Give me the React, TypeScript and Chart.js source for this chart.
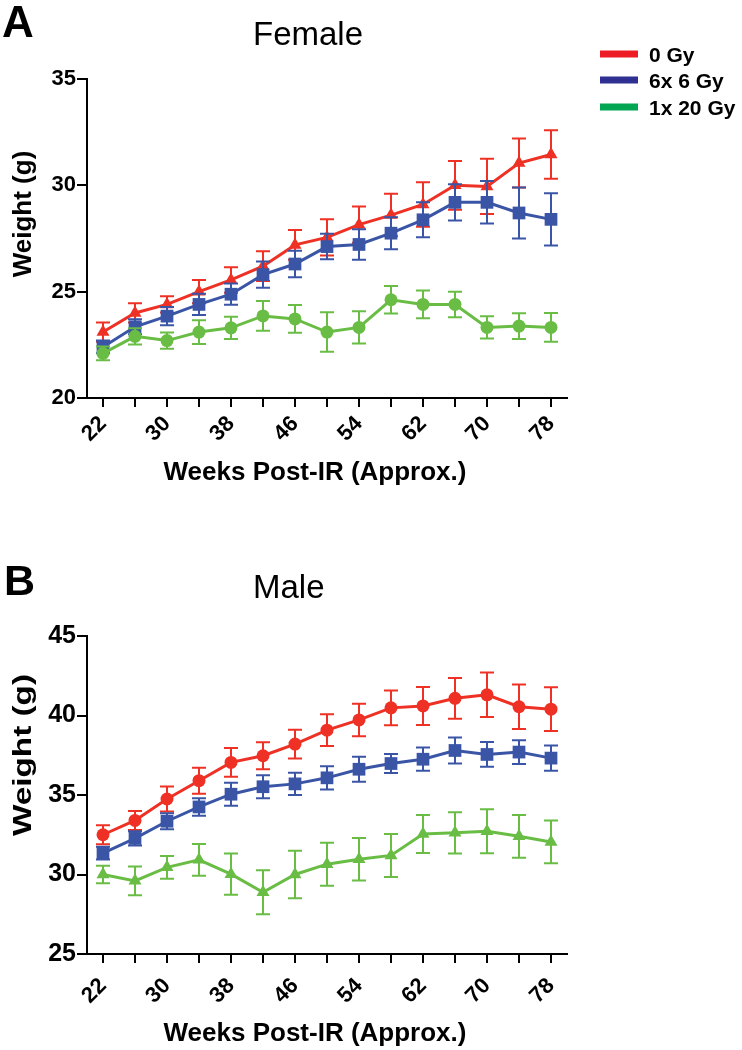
import React, { useEffect, useRef } from "react";
import { Chart, registerables } from "chart.js";

Chart.register(...registerables);

const FONT = "'Liberation Sans', Arial, Helvetica, sans-serif";

// ---- Data ----
const weeks = ["22", "26", "30", "34", "38", "42", "46", "50", "54", "58", "62", "66", "70", "74", "78"];
const seriesNames = ["0 Gy", "6x 6 Gy", "1x 20 Gy"];

// Female (panel A)
const female0Gy = [23.1, 24.0, 24.4, 25.0, 25.55, 26.2, 27.2, 27.55, 28.15, 28.6, 29.1, 30.0, 29.95, 31.05, 31.45];
const female0GySem = [0.45, 0.45, 0.38, 0.55, 0.6, 0.7, 0.7, 0.85, 0.85, 1.0, 1.05, 1.15, 1.3, 1.15, 1.14];
const female6x6Gy = [22.4, 23.35, 23.85, 24.4, 24.88, 25.8, 26.3, 27.12, 27.22, 27.75, 28.38, 29.2, 29.2, 28.7, 28.4];
const female6x6GySem = [0.3, 0.35, 0.43, 0.5, 0.5, 0.62, 0.62, 0.6, 0.72, 0.75, 0.82, 0.85, 1.0, 1.2, 1.23];
const female1x20Gy = [22.1, 22.9, 22.7, 23.1, 23.3, 23.86, 23.72, 23.1, 23.32, 24.62, 24.4, 24.4, 23.32, 23.38, 23.32];
const female1x20GySem = [0.32, 0.38, 0.38, 0.56, 0.52, 0.7, 0.65, 0.93, 0.76, 0.65, 0.65, 0.6, 0.52, 0.6, 0.68];

// Male (panel B)
const male0Gy = [32.5, 33.4, 34.75, 35.9, 37.05, 37.47, 38.2, 39.08, 39.72, 40.48, 40.6, 41.08, 41.3, 40.55, 40.4];
const male0GySem = [0.6, 0.6, 0.78, 0.82, 0.9, 0.85, 0.9, 1.0, 1.02, 1.1, 1.2, 1.28, 1.4, 1.4, 1.38];
const male6x6Gy = [31.35, 32.27, 33.35, 34.25, 35.05, 35.52, 35.7, 36.08, 36.62, 36.98, 37.25, 37.8, 37.55, 37.7, 37.32];
const male6x6GySem = [0.4, 0.45, 0.5, 0.55, 0.72, 0.72, 0.7, 0.73, 0.78, 0.6, 0.73, 0.82, 0.78, 0.75, 0.8];
const male1x20Gy = [30.0, 29.6, 30.45, 30.92, 30.02, 28.88, 30.0, 30.65, 30.96, 31.2, 32.55, 32.62, 32.72, 32.4, 32.05];
const male1x20GySem = [0.55, 0.9, 0.72, 1.0, 1.3, 1.38, 1.5, 1.35, 1.33, 1.35, 1.2, 1.3, 1.38, 1.35, 1.35];

const femaleYTicks = [20, 25, 30, 35];
const maleYTicks = [25, 30, 35, 40, 45];

// ---- Styles ----
const RED = "#EE3124";
const BLUE = "#3A55A6";
const GREEN = "#69BD45";
const LEGEND_COLORS = ["#ED1C24", "#2E3192", "#00A651"];

type TextItem = {
  text: string;
  x: number;
  y: number;
  font: string;
  align?: CanvasTextAlign;
  rotate?: number;
  stretch?: number;
};

function annotationPlugin(items: TextItem[], legend: boolean) {
  return {
    id: "annotations",
    afterDraw(chart: any) {
      const ctx: CanvasRenderingContext2D = chart.ctx;
      ctx.save();
      ctx.fillStyle = "#000";
      ctx.textBaseline = "alphabetic";
      for (const it of items) {
        ctx.save();
        ctx.font = it.font;
        ctx.textAlign = it.align || "left";
        ctx.translate(it.x, it.y);
        if (it.rotate) ctx.rotate(it.rotate);
        if (it.stretch) ctx.scale(it.stretch, 1);
        ctx.fillText(it.text, 0, 0);
        ctx.restore();
      }
      if (legend) {
        const rows = [54, 80, 107];
        seriesNames.forEach((name, i) => {
          ctx.fillStyle = LEGEND_COLORS[i];
          ctx.fillRect(600, rows[i] - 3.5, 38, 7);
          ctx.fillStyle = "#000";
          ctx.font = `bold 21px ${FONT}`;
          ctx.textAlign = "left";
          ctx.fillText(name, 649, rows[i] + 7.5);
        });
      }
      ctx.restore();
    },
  };
}

function errorBarPlugin(errs: number[][]) {
  return {
    id: "errorBars",
    beforeDatasetDraw(chart: any, args: any) {
      const i = args.index;
      const meta = args.meta;
      const ds = chart.data.datasets[i];
      const ys = chart.scales.y;
      const e = errs[i];
      const ctx: CanvasRenderingContext2D = chart.ctx;
      ctx.save();
      ctx.strokeStyle = ds.borderColor;
      ctx.lineWidth = 2;
      meta.data.forEach((pt: any, j: number) => {
        const v = ds.data[j];
        const top = ys.getPixelForValue(v + e[j]);
        const bot = ys.getPixelForValue(v - e[j]);
        const x = pt.x;
        ctx.beginPath();
        ctx.moveTo(x, top);
        ctx.lineTo(x, bot);
        ctx.moveTo(x - 7, top);
        ctx.lineTo(x + 7, top);
        ctx.moveTo(x - 7, bot);
        ctx.lineTo(x + 7, bot);
        ctx.stroke();
      });
      ctx.restore();
    },
  };
}

type PanelCfg = {
  series: number[][];
  sems: number[][];
  styles: string[];
  radii: number[];
  yMin: number;
  yMax: number;
  yTicks: number[];
  padTop: number;
  xHeight: number;
  yTickSize: number;
  xTickPad: number;
  texts: TextItem[];
  legend: boolean;
};

function buildChart(canvas: HTMLCanvasElement, cfg: PanelCfg) {
  const colors = [RED, BLUE, GREEN];
  return new Chart(canvas, {
    type: "line",
    data: {
      labels: weeks,
      datasets: cfg.series.map((d, i) => ({
        label: seriesNames[i],
        data: d,
        borderColor: colors[i],
        backgroundColor: colors[i],
        borderWidth: 3,
        pointStyle: cfg.styles[i] as any,
        pointRadius: cfg.radii[i],
        pointBorderWidth: 0,
        pointBackgroundColor: colors[i],
        pointBorderColor: colors[i],
        tension: 0,
        order: 3 - i,
      })),
    },
    options: {
      responsive: false,
      animation: false,
      devicePixelRatio: 1,
      events: [],
      layout: { padding: { top: cfg.padTop, right: 175, left: 0, bottom: 0 } },
      plugins: {
        legend: { display: false },
        title: { display: false },
        tooltip: { enabled: false },
      },
      scales: {
        x: {
          type: "category",
          offset: true,
          afterFit: (s: any) => {
            s.height = cfg.xHeight;
          },
          border: { color: "#000", width: 2 },
          grid: {
            drawOnChartArea: false,
            drawTicks: true,
            tickLength: 9,
            color: "#000",
            lineWidth: 2,
          },
          ticks: {
            autoSkip: false,
            minRotation: 45,
            maxRotation: 45,
            padding: cfg.xTickPad,
            color: "#000",
            font: { family: FONT, size: 22, weight: "bold" },
            callback: (_v: any, idx: number) => (idx % 2 === 0 ? weeks[idx] : ""),
          },
        },
        y: {
          type: "linear",
          min: cfg.yMin,
          max: cfg.yMax,
          afterFit: (s: any) => {
            s.width = 87;
          },
          afterBuildTicks: (s: any) => {
            s.ticks = cfg.yTicks.map((v) => ({ value: v }));
          },
          border: { color: "#000", width: 2 },
          grid: {
            drawOnChartArea: false,
            drawTicks: true,
            tickLength: 10,
            color: "#000",
            lineWidth: 2,
          },
          ticks: {
            padding: 1,
            color: "#000",
            font: { family: FONT, size: cfg.yTickSize, weight: "bold" },
          },
        },
      },
    },
    plugins: [errorBarPlugin(cfg.sems), annotationPlugin(cfg.texts, cfg.legend)],
  } as any);
}

const panelA: PanelCfg = {
  series: [female0Gy, female6x6Gy, female1x20Gy],
  sems: [female0GySem, female6x6GySem, female1x20GySem],
  styles: ["triangle", "rect", "circle"],
  radii: [7.5, 9, 6.5],
  yMin: 20,
  yMax: 35,
  yTicks: femaleYTicks,
  padTop: 79,
  xHeight: 127,
  yTickSize: 22,
  xTickPad: 4,
  legend: true,
  texts: [
    { text: "A", x: 2, y: 37, font: `bold 44px ${FONT}` },
    { text: "Female", x: 253, y: 45, font: `33px ${FONT}` },
    { text: "Weeks Post-IR (Approx.)", x: 315, y: 480, font: `bold 26px ${FONT}`, align: "center" },
    { text: "Weight (g)", x: 31, y: 214, font: `bold 26px ${FONT}`, align: "center", rotate: -Math.PI / 2 },
  ],
};

const panelB: PanelCfg = {
  series: [male0Gy, male6x6Gy, male1x20Gy],
  sems: [male0GySem, male6x6GySem, male1x20GySem],
  styles: ["circle", "rect", "triangle"],
  radii: [6.5, 9, 7.5],
  yMin: 25,
  yMax: 45,
  yTicks: maleYTicks,
  padTop: 111,
  xHeight: 96,
  yTickSize: 25,
  xTickPad: 10,
  legend: false,
  texts: [
    { text: "B", x: 4, y: 70, font: `bold 43px ${FONT}` },
    { text: "Male", x: 253, y: 73, font: `33px ${FONT}` },
    { text: "Weeks Post-IR (Approx.)", x: 315, y: 516, font: `bold 26px ${FONT}`, align: "center" },
    { text: "Weight (g)", x: 31, y: 230, font: `bold 26px ${FONT}`, align: "center", rotate: -Math.PI / 2, stretch: 1.28 },
  ],
};

function Panel({ cfg, top }: { cfg: PanelCfg; top: number }) {
  const ref = useRef<HTMLCanvasElement | null>(null);
  useEffect(() => {
    if (!ref.current) return;
    const chart = buildChart(ref.current, cfg);
    return () => chart.destroy();
  }, [cfg]);
  return (
    <div style={{ position: "absolute", left: 0, top, width: 742, height: 525 }}>
      <canvas ref={ref} width={742} height={525} style={{ width: 742, height: 525, display: "block" }} />
    </div>
  );
}

export default function App() {
  return (
    <div style={{ position: "absolute", left: 0, top: 0, width: 742, height: 1050, background: "#fff" }}>
      <Panel cfg={panelA} top={0} />
      <Panel cfg={panelB} top={525} />
    </div>
  );
}
